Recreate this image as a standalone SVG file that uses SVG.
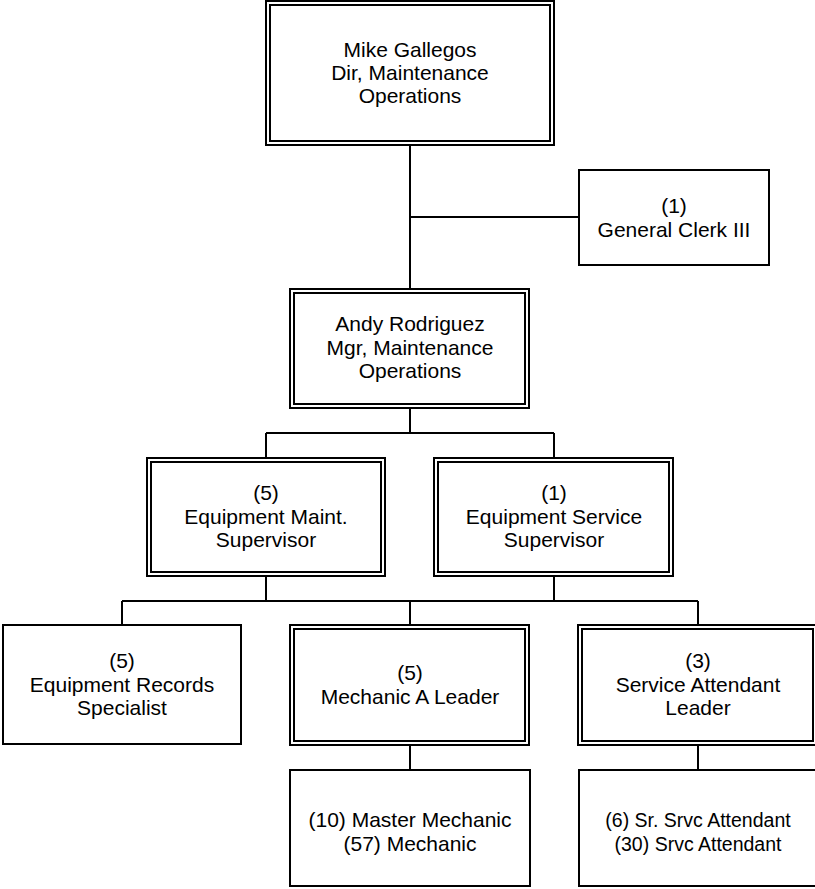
<svg xmlns="http://www.w3.org/2000/svg" width="815" height="889" viewBox="0 0 815 889">
<style>
.b{fill:#fff;stroke:#000;stroke-width:2}
.c{fill:none;stroke:#000;stroke-width:2}
text{font-family:"Liberation Sans",Arial,sans-serif;font-size:21px;fill:#000;text-anchor:middle}
.s{font-size:19.5px}
</style>
<rect width="815" height="889" fill="#fff"/>
<g id="connectors">
<path class="c" d="M410 146V288M410 217H578M410 409V433M266 433H554M266 433V457M554 433V457M266 577V601M554 577V601M122 601H698M122 601V624M410 601V624M698 601V624M410 746V769M698 746V769"/>
</g>
<g id="mike">
<rect class="b" x="266" y="1" width="288" height="144"/>
<rect class="b" x="270" y="5" width="280" height="136"/>
<text x="410" y="57">Mike Gallegos</text>
<text x="410" y="80">Dir, Maintenance</text>
<text x="410" y="103">Operations</text>
</g>
<g id="clerk">
<rect class="b" x="579" y="170" width="190" height="95"/>
<text x="674" y="213">(1)</text>
<text x="674" y="236.5">General Clerk III</text>
</g>
<g id="andy">
<rect class="b" x="290" y="289" width="239" height="119"/>
<rect class="b" x="294" y="293" width="231" height="111"/>
<text x="410" y="331">Andy Rodriguez</text>
<text x="410" y="354.5">Mgr, Maintenance</text>
<text x="410" y="378">Operations</text>
</g>
<g id="eqmaint">
<rect class="b" x="147" y="458" width="238" height="118"/>
<rect class="b" x="151" y="462" width="230" height="110"/>
<text x="266" y="500">(5)</text>
<text x="266" y="523.5">Equipment Maint.</text>
<text x="266" y="547">Supervisor</text>
</g>
<g id="eqservice">
<rect class="b" x="434" y="458" width="239" height="118"/>
<rect class="b" x="438" y="462" width="231" height="110"/>
<text x="554" y="500">(1)</text>
<text x="554" y="523.5">Equipment Service</text>
<text x="554" y="547">Supervisor</text>
</g>
<g id="eqrecords">
<rect class="b" x="3" y="625" width="238" height="119"/>
<text x="122" y="668">(5)</text>
<text x="122" y="691.5">Equipment Records</text>
<text x="122" y="715">Specialist</text>
</g>
<g id="mecha">
<rect class="b" x="290" y="625" width="239" height="120"/>
<rect class="b" x="294" y="629" width="231" height="112"/>
<text x="410" y="680">(5)</text>
<text x="410" y="703.5">Mechanic A Leader</text>
</g>
<g id="servatt">
<rect class="b" x="578" y="625" width="239" height="120"/>
<rect class="b" x="582" y="629" width="231" height="112"/>
<text x="698" y="668">(3)</text>
<text x="698" y="691.5">Service Attendant</text>
<text x="698" y="715">Leader</text>
</g>
<g id="master">
<rect class="b" x="290" y="770" width="240" height="116"/>
<text x="410" y="827">(10) Master Mechanic</text>
<text x="410" y="850.5">(57) Mechanic</text>
</g>
<g id="srvc">
<rect class="b" x="579" y="770" width="239" height="116"/>
<text class="s" x="698" y="827">(6) Sr. Srvc Attendant</text>
<text class="s" x="698" y="850.5">(30) Srvc Attendant</text>
</g>
</svg>
